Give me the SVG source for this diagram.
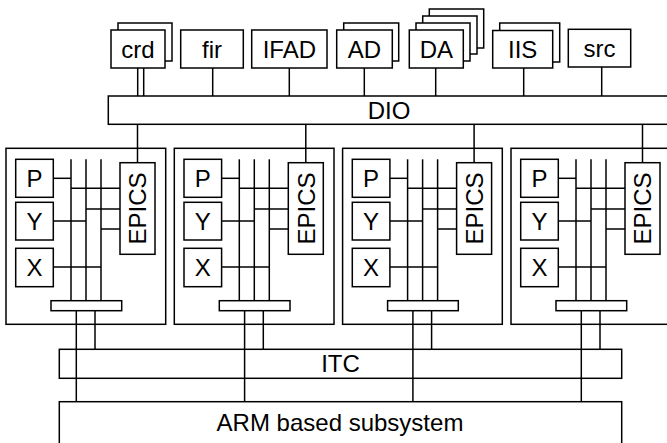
<svg xmlns="http://www.w3.org/2000/svg" xmlns:xlink="http://www.w3.org/1999/xlink" width="667" height="443" viewBox="0 0 667 443">
<style>
rect{fill:#fff;stroke:#000;stroke-width:1.5}
line{stroke:#000;stroke-width:1.5}
text{font-family:"Liberation Sans",Arial,sans-serif;font-size:24px;fill:#000;text-anchor:middle}
</style>
<rect x="0" y="0" width="667" height="443" style="stroke:none"/>
<g id="nodes">
<g id="crd"><rect x="118" y="23" width="54" height="38"/><rect x="111" y="30" width="54" height="38"/><text x="138" y="57.5">crd</text></g>
<g id="fir"><rect x="180.7" y="30" width="62.6" height="38"/><text x="212" y="57.5">fir</text></g>
<g id="IFAD"><rect x="251.7" y="30" width="75.3" height="38"/><text x="289.3" y="57.5">IFAD</text></g>
<g id="AD"><rect x="343.7" y="23" width="55" height="38"/><rect x="336.7" y="30" width="55.6" height="38"/><text x="364.5" y="57.5">AD</text></g>
<g id="DA"><rect x="429.3" y="9" width="54.4" height="39"/><rect x="422.7" y="16" width="54.3" height="38"/><rect x="416" y="23" width="54" height="38"/><rect x="409.3" y="30" width="54" height="38"/><text x="436.3" y="57.5">DA</text></g>
<g id="IIS"><rect x="499.7" y="23" width="60" height="39"/><rect x="492.7" y="30.5" width="60" height="37.5"/><text x="522.7" y="57.5">IIS</text></g>
<g id="src"><rect x="568.3" y="29.3" width="62.4" height="37.7"/><text x="599.5" y="57">src</text></g>
<g id="DIO"><rect x="108.3" y="96" width="562" height="28.3"/><text x="389" y="118.5">DIO</text></g>
<g id="cluster1"><rect x="6" y="148.3" width="159.7" height="176"/>
<g id="P1"><rect x="15.7" y="159.3" width="37.6" height="38"/><text x="34.5" y="187">P</text></g>
<g id="Y1"><rect x="15.7" y="202.3" width="37.6" height="37.7"/><text x="34.5" y="229.8">Y</text></g>
<g id="X1"><rect x="15.7" y="248.3" width="37.6" height="38.4"/><text x="34.5" y="276">X</text></g>
<g id="EPICS1"><rect x="120" y="162.7" width="35" height="91.6"/><text transform="translate(146.2,208.5) rotate(-90)">EPICS</text></g>
<g id="bar1"><rect x="51" y="300.7" width="70.7" height="10"/></g>
</g>
<g id="cluster2" transform="translate(168.3,0)"><rect x="6" y="148.3" width="159.7" height="176"/>
<g id="P2"><rect x="15.7" y="159.3" width="37.6" height="38"/><text x="34.5" y="187">P</text></g>
<g id="Y2"><rect x="15.7" y="202.3" width="37.6" height="37.7"/><text x="34.5" y="229.8">Y</text></g>
<g id="X2"><rect x="15.7" y="248.3" width="37.6" height="38.4"/><text x="34.5" y="276">X</text></g>
<g id="EPICS2"><rect x="120" y="162.7" width="35" height="91.6"/><text transform="translate(146.2,208.5) rotate(-90)">EPICS</text></g>
<g id="bar2"><rect x="51" y="300.7" width="70.7" height="10"/></g>
</g>
<g id="cluster3" transform="translate(336.6,0)"><rect x="6" y="148.3" width="159.7" height="176"/>
<g id="P3"><rect x="15.7" y="159.3" width="37.6" height="38"/><text x="34.5" y="187">P</text></g>
<g id="Y3"><rect x="15.7" y="202.3" width="37.6" height="37.7"/><text x="34.5" y="229.8">Y</text></g>
<g id="X3"><rect x="15.7" y="248.3" width="37.6" height="38.4"/><text x="34.5" y="276">X</text></g>
<g id="EPICS3"><rect x="120" y="162.7" width="35" height="91.6"/><text transform="translate(146.2,208.5) rotate(-90)">EPICS</text></g>
<g id="bar3"><rect x="51" y="300.7" width="70.7" height="10"/></g>
</g>
<g id="cluster4" transform="translate(505,0)"><rect x="6" y="148.3" width="159.7" height="176"/>
<g id="P4"><rect x="15.7" y="159.3" width="37.6" height="38"/><text x="34.5" y="187">P</text></g>
<g id="Y4"><rect x="15.7" y="202.3" width="37.6" height="37.7"/><text x="34.5" y="229.8">Y</text></g>
<g id="X4"><rect x="15.7" y="248.3" width="37.6" height="38.4"/><text x="34.5" y="276">X</text></g>
<g id="EPICS4"><rect x="120" y="162.7" width="35" height="91.6"/><text transform="translate(146.2,208.5) rotate(-90)">EPICS</text></g>
<g id="bar4"><rect x="51" y="300.7" width="70.7" height="10"/></g>
</g>
<g id="ITC"><rect x="59.3" y="349.3" width="562.4" height="29"/><text x="340.5" y="372">ITC</text></g>
<g id="ARM"><rect x="59.3" y="401.7" width="562.4" height="60"/><text x="340" y="430.5">ARM based subsystem</text></g>
</g>
<defs>
<g id="bus">
<line x1="71" y1="159.3" x2="71" y2="300.7"/>
<line x1="86" y1="159.3" x2="86" y2="300.7"/>
<line x1="101" y1="159.3" x2="101" y2="300.7"/>
<line x1="53.3" y1="178.3" x2="71" y2="178.3"/>
<line x1="71" y1="188.3" x2="120" y2="188.3"/>
<line x1="86" y1="209" x2="120" y2="209"/>
<line x1="101" y1="229" x2="120" y2="229"/>
<line x1="53.3" y1="221" x2="86" y2="221"/>
<line x1="53.3" y1="267" x2="101" y2="267"/>
<line x1="137.5" y1="124.3" x2="137.5" y2="162.7"/>
<line x1="76.3" y1="310.7" x2="76.3" y2="401.7"/>
<line x1="95" y1="310.7" x2="95" y2="349.3"/>
</g>
</defs>
<g id="connectors">
<line x1="137.7" y1="68" x2="137.7" y2="96"/>
<line x1="143.7" y1="68" x2="143.7" y2="96"/>
<line x1="212.7" y1="68" x2="212.7" y2="96"/>
<line x1="289.3" y1="68" x2="289.3" y2="96"/>
<line x1="364.3" y1="68" x2="364.3" y2="96"/>
<line x1="435.7" y1="68" x2="435.7" y2="96"/>
<line x1="523.7" y1="68" x2="523.7" y2="96"/>
<line x1="601.7" y1="67" x2="601.7" y2="96"/>
<use xlink:href="#bus"/>
<use xlink:href="#bus" x="168.3"/>
<use xlink:href="#bus" x="336.6"/>
<use xlink:href="#bus" x="505"/>
</g>
</svg>
